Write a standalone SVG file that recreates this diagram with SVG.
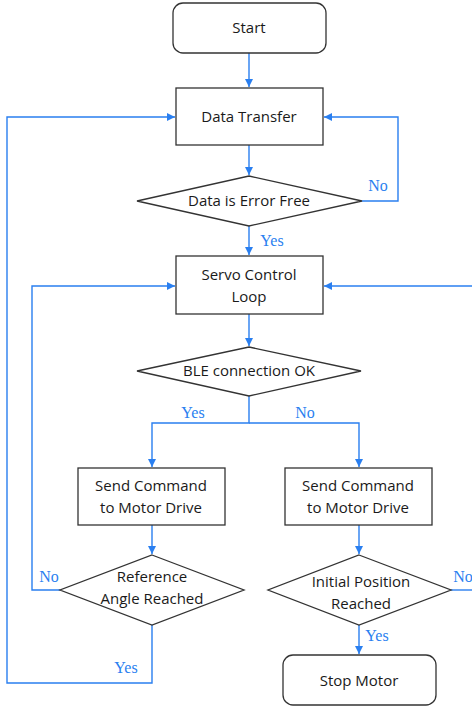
<svg xmlns="http://www.w3.org/2000/svg" width="472" height="707" viewBox="0 0 472 707">
<style>
.box{fill:#fff;stroke:#333;stroke-width:1.3}
.t{font-family:"Open Sans","Liberation Sans",sans-serif;font-size:15px;fill:#1a1a1a;text-anchor:middle}
.c{fill:none;stroke:#2a7ff0;stroke-width:1.4}
.lbl{font-family:"Liberation Serif","DejaVu Serif",serif;font-size:16px;fill:#2a7ff0;text-anchor:middle}
</style>
<defs>
<marker id="ah" markerWidth="8" markerHeight="8" refX="8" refY="4" orient="auto" markerUnits="userSpaceOnUse">
<path d="M0,0 L8,4 L0,8 Z" fill="#2a7ff0"/>
</marker>
</defs>
<rect width="472" height="707" fill="#fff"/>
<g id="connectors">
<path class="c" d="M249,53 V87" marker-end="url(#ah)"/>
<path class="c" d="M249,145 V175" marker-end="url(#ah)"/>
<path class="c" d="M362,201 H398 V117 H324" marker-end="url(#ah)"/>
<path class="c" d="M249,226 V255" marker-end="url(#ah)"/>
<path class="c" d="M249,314 V346" marker-end="url(#ah)"/>
<path class="c" d="M249,396 V423 H152 V467" marker-end="url(#ah)"/>
<path class="c" d="M249,423 H359 V467" marker-end="url(#ah)"/>
<path class="c" d="M152,525 V554" marker-end="url(#ah)"/>
<path class="c" d="M359,525 V554" marker-end="url(#ah)"/>
<path class="c" d="M60,590 H32 V286 H175" marker-end="url(#ah)"/>
<path class="c" d="M152,625 V683 H7 V117 H175" marker-end="url(#ah)"/>
<path class="c" d="M451,590 H480"/>
<path class="c" d="M480,286 H324" marker-end="url(#ah)"/>
<path class="c" d="M359,625 V654" marker-end="url(#ah)"/>
<text class="lbl" x="378" y="191">No</text>
<text class="lbl" x="272" y="246">Yes</text>
<text class="lbl" x="193" y="418">Yes</text>
<text class="lbl" x="305" y="418">No</text>
<text class="lbl" x="49" y="582">No</text>
<text class="lbl" x="126" y="673">Yes</text>
<text class="lbl" x="463" y="582">No</text>
<text class="lbl" x="377" y="641">Yes</text>
</g>
<g id="start"><rect class="box" x="173" y="3" width="153" height="50" rx="10"/><text class="t" x="249" y="33">Start</text></g>
<g id="data-transfer"><rect class="box" x="176" y="88" width="147" height="57"/><text class="t" x="249" y="122">Data Transfer</text></g>
<g id="error-free"><path class="box" d="M249,176 L362,201 L249,226 L137,201 Z"/><text class="t" x="249" y="206">Data is Error Free</text></g>
<g id="servo"><rect class="box" x="176" y="256" width="147" height="58"/><text class="t" x="249" y="280">Servo Control</text><text class="t" x="249" y="302">Loop</text></g>
<g id="ble"><path class="box" d="M249,347 L361,371 L249,396 L137,371 Z"/><text class="t" x="249" y="376">BLE connection OK</text></g>
<g id="cmd-left"><rect class="box" x="78" y="468" width="147" height="57"/><text class="t" x="151" y="491">Send Command</text><text class="t" x="151" y="513">to Motor Drive</text></g>
<g id="cmd-right"><rect class="box" x="285" y="468" width="147" height="57"/><text class="t" x="358" y="491">Send Command</text><text class="t" x="358" y="513">to Motor Drive</text></g>
<g id="ref-angle"><path class="box" d="M152,555 L244,590 L152,625 L60,590 Z"/><text class="t" x="152" y="582">Reference</text><text class="t" x="152" y="604">Angle Reached</text></g>
<g id="init-pos"><path class="box" d="M359,555 L451,590 L359,625 L268,590 Z"/><text class="t" x="361" y="587">Initial Position</text><text class="t" x="361" y="609">Reached</text></g>
<g id="stop"><rect class="box" x="283" y="655" width="153" height="50" rx="10"/><text class="t" x="359" y="686">Stop Motor</text></g>
</svg>
